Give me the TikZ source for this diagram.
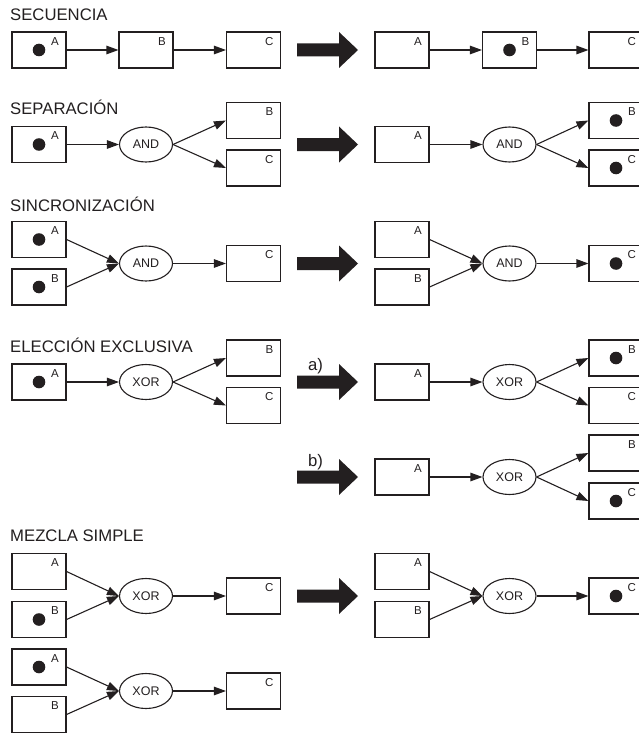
\documentclass[tikz,border=0pt]{standalone}
\usepackage{fontspec}
\setmainfont{Liberation Sans}
\usepackage{tikz}
\usetikzlibrary{arrows.meta, shapes.geometric}
\definecolor{ink}{HTML}{231F20}

\begin{document}
\begin{tikzpicture}[
  x=1pt, y=-1pt,
  place/.style = {rectangle, draw=ink, line width=1.1pt, minimum width=54pt, minimum height=36pt, inner sep=0pt},
  tag/.style = {anchor=north east, inner sep=0pt, xshift=-7.5pt, yshift=-5.5pt, text=ink, font=\fontsize{11.5}{13}\selectfont},
  marked/.style = {path picture={\fill[ink] (path picture bounding box.center) circle (6.3pt);}},
  gate/.style = {ellipse, draw=ink, line width=1.1pt, minimum width=53pt, minimum height=35pt, inner sep=0pt, text=ink, font=\fontsize{12.5}{14}\selectfont},
  arrow/.style = {-{Triangle[length=12pt, width=8.5pt]}, line width=1.1pt, draw=ink},
  title/.style = {anchor=base west, inner sep=0pt, text=ink, font=\fontsize{16.7}{18}\selectfont}
]
\useasboundingbox (0,0) rectangle (639,733);

% SECUENCIA
\node[title] (tSeq) at (10,21) {SECUENCIA};
\node[place, marked, label={[tag]north east:A}] (seqA) at (39,50) {};
\node[place, label={[tag]north east:B}] (seqB) at (146,50) {};
\node[place, label={[tag]north east:C}] (seqC) at (253.5,50) {};
\node[place, label={[tag]north east:A}] (seqA2) at (402,50) {};
\node[place, marked, label={[tag]north east:B}] (seqB2) at (509.5,50) {};
\node[place, label={[tag]north east:C}] (seqC2) at (616,50) {};

\draw[arrow] (seqA.east) -- (seqB.west);
\draw[arrow] (seqB.east) -- (seqC.west);
\draw[arrow] (seqA2.east) -- (seqB2.west);
\draw[arrow] (seqB2.east) -- (seqC2.west);

% SEPARACION
\node[title] (tSep) at (10,115) {SEPARACIÓN};
\node[place, marked, label={[tag]north east:A}] (sepA) at (39,144.5) {};
\node[gate] (sepAnd) at (146,144.5) {AND};
\node[place, label={[tag]north east:B}] (sepB) at (253.5,120.5) {};
\node[place, label={[tag]north east:C}] (sepC) at (253.5,168) {};
\node[place, label={[tag]north east:A}] (sepA2) at (402,144.5) {};
\node[gate] (sepAnd2) at (509.5,144.5) {AND};
\node[place, marked, label={[tag]north east:B}] (sepB2) at (616,120.5) {};
\node[place, marked, label={[tag]north east:C}] (sepC2) at (616,168) {};

\draw[arrow] (sepA.east) -- (sepAnd.west);
\draw[arrow] (sepAnd.east) -- (sepB.west);
\draw[arrow] (sepAnd.east) -- (sepC.west);
\draw[arrow] (sepA2.east) -- (sepAnd2.west);
\draw[arrow] (sepAnd2.east) -- (sepB2.west);
\draw[arrow] (sepAnd2.east) -- (sepC2.west);

% SINCRONIZACION
\node[title] (tSyn) at (10,211.5) {SINCRONIZACIÓN};
\node[place, marked, label={[tag]north east:A}] (synA) at (39,239.5) {};
\node[place, marked, label={[tag]north east:B}] (synB) at (39,287) {};
\node[gate] (synAnd) at (146,263.5) {AND};
\node[place, label={[tag]north east:C}] (synC) at (253.5,263.5) {};
\node[place, label={[tag]north east:A}] (synA2) at (402,239.5) {};
\node[place, label={[tag]north east:B}] (synB2) at (402,287) {};
\node[gate] (synAnd2) at (509.5,263.5) {AND};
\node[place, marked, label={[tag]north east:C}] (synC2) at (616,263.5) {};

\draw[arrow] (synA.east) -- (synAnd.west);
\draw[arrow] (synB.east) -- (synAnd.west);
\draw[arrow] (synAnd.east) -- (synC.west);
\draw[arrow] (synA2.east) -- (synAnd2.west);
\draw[arrow] (synB2.east) -- (synAnd2.west);
\draw[arrow] (synAnd2.east) -- (synC2.west);

% ELECCION EXCLUSIVA
\node[title] (tXor) at (10,352) {ELECCIÓN EXCLUSIVA};
\node[place, marked, label={[tag]north east:A}] (xorA) at (39,382) {};
\node[gate] (xorX) at (146,382) {XOR};
\node[place, label={[tag]north east:B}] (xorB) at (253.5,358) {};
\node[place, label={[tag]north east:C}] (xorC) at (253.5,405.5) {};
\node[title] (optA) at (308,370) {a)};
\node[place, label={[tag]north east:A}] (xorA2) at (402,382) {};
\node[gate] (xorX2) at (509.5,382) {XOR};
\node[place, marked, label={[tag]north east:B}] (xorB2) at (616,358) {};
\node[place, label={[tag]north east:C}] (xorC2) at (616,405.5) {};
\node[title] (optB) at (308,466) {b)};
\node[place, label={[tag]north east:A}] (xorA3) at (402,477) {};
\node[gate] (xorX3) at (509.5,477) {XOR};
\node[place, label={[tag]north east:B}] (xorB3) at (616,453) {};
\node[place, marked, label={[tag]north east:C}] (xorC3) at (616,501) {};

\draw[arrow] (xorA.east) -- (xorX.west);
\draw[arrow] (xorX.east) -- (xorB.west);
\draw[arrow] (xorX.east) -- (xorC.west);
\draw[arrow] (xorA2.east) -- (xorX2.west);
\draw[arrow] (xorX2.east) -- (xorB2.west);
\draw[arrow] (xorX2.east) -- (xorC2.west);
\draw[arrow] (xorA3.east) -- (xorX3.west);
\draw[arrow] (xorX3.east) -- (xorB3.west);
\draw[arrow] (xorX3.east) -- (xorC3.west);

% MEZCLA SIMPLE
\node[title] (tMrg) at (10,541) {MEZCLA SIMPLE};
\node[place, label={[tag]north east:A}] (mrgA) at (39,571.5) {};
\node[place, marked, label={[tag]north east:B}] (mrgB) at (39,619.5) {};
\node[gate] (mrgX) at (146,596) {XOR};
\node[place, label={[tag]north east:C}] (mrgC) at (253.5,596) {};
\node[place, label={[tag]north east:A}] (mrgA2) at (402,571.5) {};
\node[place, label={[tag]north east:B}] (mrgB2) at (402,619.5) {};
\node[gate] (mrgX2) at (509.5,596) {XOR};
\node[place, marked, label={[tag]north east:C}] (mrgC2) at (616,596) {};
\node[place, marked, label={[tag]north east:A}] (mrgA3) at (39,667) {};
\node[place, label={[tag]north east:B}] (mrgB3) at (39,714.5) {};
\node[gate] (mrgX3) at (146,691) {XOR};
\node[place, label={[tag]north east:C}] (mrgC3) at (253.5,691) {};

\draw[arrow] (mrgA.east) -- (mrgX.west);
\draw[arrow] (mrgB.east) -- (mrgX.west);
\draw[arrow] (mrgX.east) -- (mrgC.west);
\draw[arrow] (mrgA2.east) -- (mrgX2.west);
\draw[arrow] (mrgB2.east) -- (mrgX2.west);
\draw[arrow] (mrgX2.east) -- (mrgC2.west);
\draw[arrow] (mrgA3.east) -- (mrgX3.west);
\draw[arrow] (mrgB3.east) -- (mrgX3.west);
\draw[arrow] (mrgX3.east) -- (mrgC3.west);

% big arrows
\foreach \y in {50,144.5,263.5,382,477,596}
  \fill[ink] (297,{\y-6.5}) -- (339,{\y-6.5}) -- (339,{\y-18}) -- (358,\y)
    -- (339,{\y+18}) -- (339,{\y+6.5}) -- (297,{\y+6.5}) -- cycle;

\end{tikzpicture}
\end{document}
